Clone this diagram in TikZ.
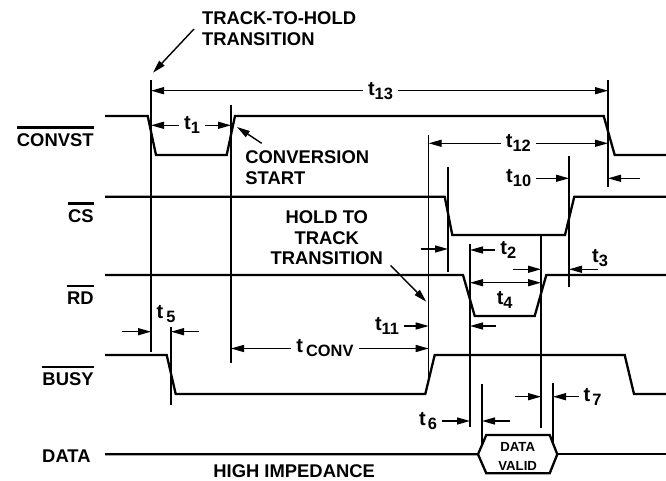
\documentclass[tikz,border=0pt]{standalone}
\usepackage{fontspec}
\setmainfont{Liberation Sans}
\usetikzlibrary{arrows.meta}
\newcommand{\ovl}[1]{\vbox{\hrule height 1.2pt\kern 2.6pt\hbox{#1}}}
\newcommand{\tsub}[2][0pt]{{\fontsize{10}{11}\selectfont t}\kern#1\raisebox{-0.4ex}{\fontsize{8.2}{9}\selectfont #2}}

\begin{document}
\begin{tikzpicture}[x=0.5pt,y=-0.5pt,
        every node/.style={inner sep=0pt,font=\fontsize{9.2}{10.4}\selectfont\bfseries},
        wave/.style={line width=1.15pt},
        guide/.style={line width=0.7pt},
        dim/.style={line width=0.7pt,-{Triangle[length=6.5pt,width=3.5pt]}},
        dimboth/.style={line width=0.7pt,{Triangle[length=6.5pt,width=3.5pt]}-{Triangle[length=6.5pt,width=3.5pt]}},
        tlab/.style={outer sep=2.5pt},
        sig/.style={anchor=base east}]
    \useasboundingbox (0,0) rectangle (666,481);

    % signal names
    \node[sig] (convst) at (94,146.7) {\ovl{CONVST}};
    \node[sig] (cs)     at (94,222.7) {\ovl{CS}};
    \node[sig] (rd)     at (94,305)   {\ovl{RD}};
    \node[sig] (busy)   at (94,386)   {\ovl{BUSY}};
    \node[sig] (data)   at (91,462.7) {DATA};

    % waveforms
    \draw[wave] (105,116) -- (147.7,116) -- (156,155) -- (226.7,155) -- (235,116)
                -- (603.7,116) -- (614.7,155) -- (666,155);
    \draw[wave] (105,196.7) -- (444.7,196.7) -- (452.3,235) -- (565,235) -- (574.3,196.7) -- (666,196.7);
    \draw[wave] (105,275) -- (463,275) -- (474.7,316) -- (534.7,316) -- (546.3,275) -- (666,275);
    \draw[wave] (105,355) -- (166.7,355) -- (175.7,394) -- (425.3,394) -- (434.7,355)
                -- (624.7,355) -- (634,394) -- (666,394);
    \draw[wave] (105,454.3) -- (478,454.3) -- (486.3,435) -- (549.7,435) -- (557.3,454.3)
                -- (549.7,473.3) -- (486.3,473.3) -- (478,454.3);
    \draw[wave] (557.3,454.3) -- (666,454.3);
    \node[font=\fontsize{6.6}{9.5}\selectfont\bfseries,align=center,anchor=north] (valid) at (517.7,441.7) {DATA\\VALID};
    \node[anchor=base west] (hiz) at (213,478) {HIGH IMPEDANCE};

    % guide lines
    \foreach \n/\x/\ya/\yb in {A/151/80/352, B/231/105/363, C/428.7/135/378, D/448/167/272,
                               E/470/244/427, F/541/236/428, G/569/156/287, H/608/80/187,
                               I/171/327/405, J/482/384/445, K/553/383/443}
        \draw[guide] (\x,\ya) coordinate (\n) -- (\x,\yb);

    % timing labels
    \node[tlab] (t13) at (380.5,90.7) {\tsub{13}};
    \draw[dim] (t13.west) -- (t13.west -| A);
    \draw[dim] (t13.east) -- (t13.east -| H);
    \node[tlab] (t1) at (192,125.3) {\tsub{1}};
    \draw[dim] (t1.west) -- (t1.west -| A);
    \draw[dim] (t1.east) -- (t1.east -| B);
    \node[tlab] (t12) at (518.3,143.3) {\tsub{12}};
    \draw[dim] (t12.west) -- (t12.west -| C);
    \draw[dim] (t12.east) -- (t12.east -| H);
    \node[tlab] (t10) at (518.7,178.3) {\tsub{10}};
    \draw[dim] (t10.east) -- (t10.east -| G);
    \coordinate (h9) at (640,178.3);
    \draw[dim] (h9) -- (h9 -| H);
    \node[tlab] (t2) at (508.3,250) {\tsub{2}};
    \draw[dim] (t2.west) -- (t2.west -| E);
    \coordinate (d8) at (420.7,249);
    \draw[dim] (d8) -- (d8 -| D);
    \coordinate (f2) at (513,269.3);
    \draw[dim] (f2) -- (f2 -| F);
    \node[tlab] (t3) at (600,258) {\tsub{3}};
    \coordinate (t3a) at (598,269.3);
    \draw[dim] (t3a) -- (t3a -| G);
    \node[tlab] (t4) at (504.7,300) {\tsub{4}};
    \coordinate (t4a) at (470,282.7);
    \draw[dimboth] (t4a) -- (t4a -| F);
    \coordinate (e8) at (496,326);
    \draw[dim] (e8) -- (e8 -| E);
    \node[tlab] (t11) at (387,326) {\tsub{11}};
    \draw[dim] (t11.east) -- (t11.east -| C);
    \node[tlab] (tconv) at (325,348.5) {\tsub[1.5pt]{CONV}};
    \draw[dim] (tconv.west) -- (tconv.west -| B);
    \draw[dim] (tconv.east) -- (tconv.east -| C);
    \node[tlab] (t5) at (166,314) {\tsub[1.5pt]{5}};
    \coordinate (t5a) at (122.3,331.7);
    \coordinate (t5b) at (199,331.7);
    \draw[dim] (t5a) -- (t5a -| A);
    \draw[dim] (t5b) -- (t5b -| I);
    \node[tlab] (t6) at (428,421) {\tsub[1pt]{6}};
    \draw[dim] (t6.east) -- (t6.east -| E);
    \coordinate (t6b) at (509.7,421);
    \draw[dim] (t6b) -- (t6b -| J);
    \node[tlab] (t7) at (592.5,396.7) {\tsub[1pt]{7}};
    \draw[dim] (t7.west) -- (t7.west -| K);
    \coordinate (t7a) at (514.7,396.7);
    \draw[dim] (t7a) -- (t7a -| F);

    % callouts
    \node[anchor=north west,align=left] (tth) at (201.7,11.7) {TRACK-TO-HOLD\\TRANSITION};
    \coordinate (tthend) at (153,72.7);
    \draw[dim] ([xshift=-3.85pt]tth.west) -- (tthend);
    \node[anchor=north west,align=left] (cst) at (245,150) {CONVERSION\\START};
    \coordinate (cstend) at (237,127);
    \draw[dim] ([shift={(8.35pt,3.35pt)}]cst.north west) -- (cstend);
    \node[anchor=north,align=center] (htt) at (326.8,210) {HOLD TO\\TRACK\\TRANSITION};
    \coordinate (httend) at (426.3,301.7);
    \draw[dim] ([xshift=3.6pt]htt.south east) -- (httend);
\end{tikzpicture}
\end{document}
